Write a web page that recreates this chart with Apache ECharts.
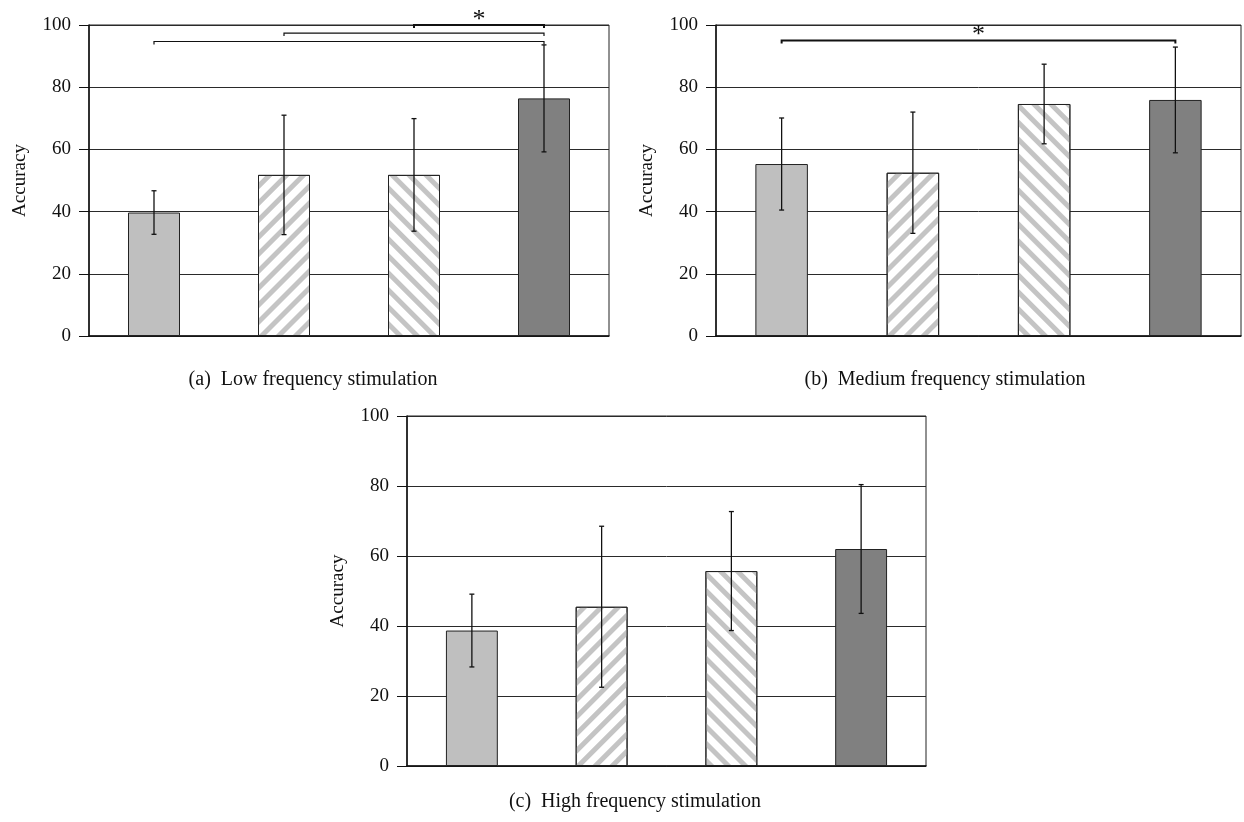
<!DOCTYPE html>
<html>
<head>
<meta charset="utf-8">
<script src="https://cdn.jsdelivr.net/npm/echarts@6/dist/echarts.min.js"></script>
<style>html,body{margin:0;padding:0;background:#fff}#c{width:1244px;height:822px}</style>
</head>
<body>
<div id="c"></div>
<script>
// ---- data ----
const categories = ['Group 1', 'Group 2', 'Group 3', 'Group 4'];
const yTicks = [0, 20, 40, 60, 80, 100];
const lowValues = [39.7, 51.8, 51.8, 76.4];
const lowErrors = [7.0, 19.2, 18.1, 17.2];
const mediumValues = [55.3, 52.5, 74.6, 75.9];
const mediumErrors = [14.8, 19.5, 12.8, 17.0];
const highValues = [38.7, 45.5, 55.7, 62.0];
const highErrors = [10.4, 23.0, 17.0, 18.4];
// significance brackets: [fromIndex, toIndex, level, hasStar]
const lowSig = [[2, 3, 100, 1], [1, 3, 97.4, 0], [0, 3, 94.7, 0]];
const mediumSig = [[0, 3, 95, 1]];
const highSig = [];
const captions = ['(a)  Low frequency stimulation', '(b)  Medium frequency stimulation', '(c)  High frequency stimulation'];
const yName = 'Accuracy';

// ---- styles ----
const FONT = '"Liberation Serif", "DejaVu Serif", serif';
const barStyles = [
  { color: '#bfbfbf', borderColor: '#222', borderWidth: 1 },
  { color: '#ffffff', borderColor: '#222', borderWidth: 1,
    decal: { symbol: 'rect', symbolSize: 1, color: '#c4c4c4', dashArrayX: [1, 0], dashArrayY: [5, 7], rotation: -Math.PI / 4 } },
  { color: '#ffffff', borderColor: '#222', borderWidth: 1,
    decal: { symbol: 'rect', symbolSize: 1, color: '#c4c4c4', dashArrayX: [1, 0], dashArrayY: [5, 7], rotation: Math.PI / 4 } },
  { color: '#808080', borderColor: '#222', borderWidth: 1 }
];

const grids = [
  { left: 89, top: 25, width: 520, height: 311 },
  { left: 716, top: 25, width: 525, height: 311 },
  { left: 407, top: 416, width: 519, height: 350 }
];
const captionPos = [[308, 365], [940, 365], [630, 787]];
const panels = [
  [lowValues, lowErrors, lowSig],
  [mediumValues, mediumErrors, mediumSig],
  [highValues, highErrors, highSig]
];

const option = {
  animation: false,
  backgroundColor: '#fff',
  title: captions.map((t, i) => ({
    text: t, left: captionPos[i][0], top: captionPos[i][1], textAlign: 'center',
    textStyle: { fontFamily: FONT, fontSize: 20, fontWeight: 'normal', color: '#111' }
  })),
  grid: grids.map(g => Object.assign({ show: true, borderColor: '#222', borderWidth: 1, backgroundColor: 'transparent' }, g)),
  xAxis: grids.map((g, i) => ({
    type: 'category', gridIndex: i, data: categories,
    axisLine: { show: true, lineStyle: { color: '#111', width: 1.5 } },
    axisTick: { show: false }, axisLabel: { show: false }, splitLine: { show: false }
  })),
  yAxis: grids.map((g, i) => ({
    type: 'value', gridIndex: i, min: yTicks[0], max: yTicks[yTicks.length - 1], interval: yTicks[1] - yTicks[0],
    name: yName, nameLocation: 'middle', nameGap: 59,
    nameTextStyle: { fontFamily: FONT, fontSize: 19, color: '#111' },
    axisLine: { show: true, lineStyle: { color: '#111', width: 1.5 } },
    axisTick: { show: true, length: 10, lineStyle: { color: '#111', width: 1 } },
    axisLabel: { fontFamily: FONT, fontSize: 19, color: '#111', margin: 18 },
    splitLine: { show: true, lineStyle: { color: '#2a2a2a', width: 1 } }
  })),
  series: []
};

panels.forEach(([vals, errs, sig], i) => {
  option.series.push({
    type: 'bar', xAxisIndex: i, yAxisIndex: i, barWidth: '40%', z: 2,
    data: vals.map((v, k) => ({ value: v, itemStyle: barStyles[k] }))
  });
  option.series.push({
    type: 'custom', xAxisIndex: i, yAxisIndex: i, z: 5, clip: false,
    data: vals.map((v, k) => [k, v, errs[k]]),
    renderItem: function (params, api) {
      const x = api.value(0), v = api.value(1), e = api.value(2);
      const t = api.coord([x, v + e]), b = api.coord([x, v - e]);
      const c = 2.5, st = { stroke: '#111', lineWidth: 1.3 };
      return { type: 'group', children: [
        { type: 'line', shape: { x1: t[0], y1: t[1], x2: b[0], y2: b[1] }, style: st },
        { type: 'line', shape: { x1: t[0] - c, y1: t[1], x2: t[0] + c, y2: t[1] }, style: st },
        { type: 'line', shape: { x1: b[0] - c, y1: b[1], x2: b[0] + c, y2: b[1] }, style: st }
      ] };
    }
  });
  if (sig.length) {
    option.series.push({
      type: 'custom', xAxisIndex: i, yAxisIndex: i, z: 6, clip: false,
      data: sig,
      renderItem: function (params, api) {
        const a = api.coord([api.value(0), api.value(2)]);
        const b = api.coord([api.value(1), api.value(2)]);
        const d = 3;
        const children = [{
          type: 'polyline',
          shape: { points: [[a[0], a[1] + d], [a[0], a[1]], [b[0], b[1]], [b[0], b[1] + d]] },
          style: { stroke: '#111', lineWidth: api.value(3) ? 2 : 1.2, fill: null }
        }];
        if (api.value(3)) {
          children.push({
            type: 'text',
            style: { text: '*', x: (a[0] + b[0]) / 2, y: a[1] - 5, align: 'center', verticalAlign: 'middle',
              fontFamily: FONT, fontSize: 26, fill: '#111' }
          });
        }
        return { type: 'group', children };
      }
    });
  }
});

const chart = echarts.init(document.getElementById('c'), null, { renderer: 'canvas' });
chart.setOption(option);
</script>
</body>
</html>
